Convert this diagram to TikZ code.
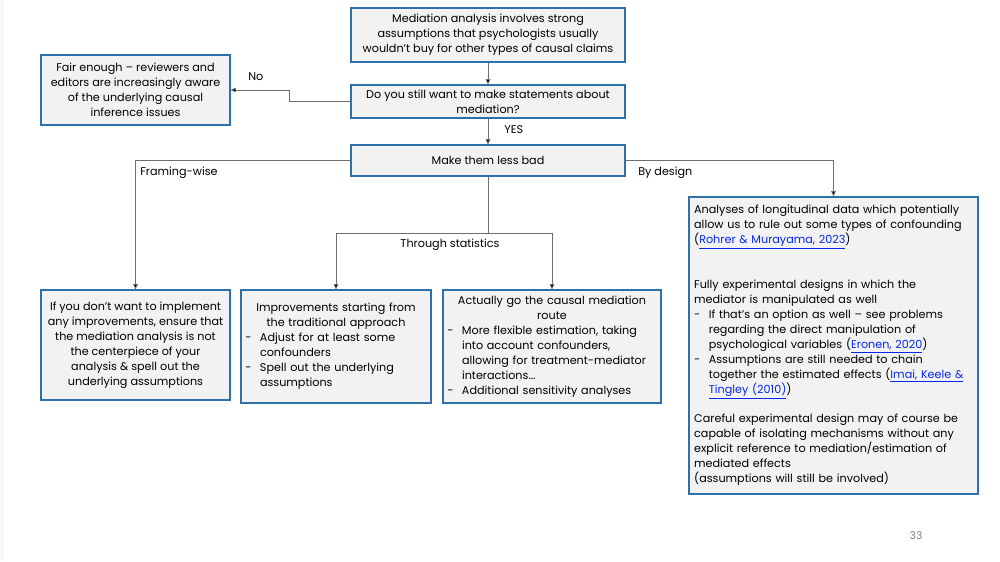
\documentclass[tikz,border=0pt]{standalone}
\usepackage{fontspec}
\setmainfont{Poppins}
\usetikzlibrary{arrows.meta}
\definecolor{boxblue}{RGB}{46,112,170}
\definecolor{boxfill}{RGB}{242,242,242}
\definecolor{linegray}{RGB}{110,110,110}
\definecolor{linkblue}{RGB}{5,40,230}
\newcommand{\lnk}[1]{\textcolor{linkblue}{\underline{#1}}}
\newcommand{\bul}{\makebox[11pt][l]{-}}
\newcommand{\ind}{\hspace*{11pt}}
\tikzset{
  fbox/.style={draw=boxblue, line width=0.9pt, fill=boxfill, inner sep=0pt, align=center,
    text=black, font=\fontsize{8.4}{11.2}\selectfont},
  conn/.style={draw=linegray, line width=0.6pt},
  arr/.style={conn, -{Triangle[length=4pt,width=3.5pt,fill=black]}},
  lbl/.style={font=\fontsize{8.4}{11.2}\selectfont, inner sep=0pt, text=black},
}
\begin{document}
\begin{tikzpicture}[x=0.75pt,y=-0.75pt]
\useasboundingbox (0,0) rectangle (1000,561);
\fill[gray!6] (0,0) rectangle (4,561);

\node[fbox, minimum width=205.5pt, minimum height=40.5pt] (top) at (488,35)
  {Mediation analysis involves strong\\assumptions that psychologists usually\\wouldn't buy for other types of causal claims};
\node[fbox, minimum width=205.5pt, minimum height=24.75pt] (q) at (488,101.5)
  {Do you still want to make statements about\\mediation?};
\node[fbox, minimum width=141.75pt, minimum height=52.5pt] (fair) at (135.5,90)
  {Fair enough -- reviewers and\\editors are increasingly aware\\of the underlying causal\\inference issues};
\node[fbox, minimum width=205.5pt, minimum height=23.25pt] (make) at (488,160.5)
  {Make them less bad};

\node[fbox, minimum width=141.75pt, minimum height=82.5pt] (fw) at (135.5,345)
  {If you don't want to implement\\any improvements, ensure that\\the mediation analysis is not\\the centerpiece of your\\analysis \& spell out the\\underlying assumptions};
\node[fbox, minimum width=142.5pt, minimum height=84.75pt, align=left, text width=136pt] (st1) at (336,346.5)
  {\makebox[\linewidth]{Improvements starting from}\\
   \makebox[\linewidth]{the traditional approach}\\
   \bul Adjust for at least some\\
   \ind confounders\\
   \bul Spell out the underlying\\
   \ind assumptions};
\node[fbox, minimum width=163.5pt, minimum height=84.75pt, align=left, text width=157pt] (st2) at (552,346.5)
  {\makebox[\linewidth]{Actually go the causal mediation}\\
   \makebox[\linewidth]{route}\\
   \bul More flexible estimation, taking\\
   \ind into account confounders,\\
   \ind allowing for treatment-mediator\\
   \ind interactions...\\
   \bul Additional sensitivity analyses};
\node[fbox, minimum width=216.75pt, minimum height=222.75pt, align=left, text width=209pt] (des) at (833.5,345.5)
  {Analyses of longitudinal data which potentially\\
   allow us to rule out some types of confounding\\
   (\lnk{Rohrer \& Murayama, 2023})\\
   \mbox{}\\
   \mbox{}\\
   Fully experimental designs in which the\\
   mediator is manipulated as well\\
   \bul If that's an option as well -- see problems\\
   \ind regarding the direct manipulation of\\
   \ind psychological variables (\lnk{Eronen, 2020})\\
   \bul Assumptions are still needed to chain\\
   \ind together the estimated effects (\lnk{Imai, Keele \&}\\
   \ind \lnk{Tingley (2010)})\\
   \mbox{}\\
   Careful experimental design may of course be\\
   capable of isolating mechanisms without any\\
   explicit reference to mediation/estimation of\\
   mediated effects\\
   (assumptions will still be involved)};

\draw[arr] (top) -- (q);
\draw[arr] (q.west) -- ++(-61,0) |- (fair.east);
\draw[arr] (q) -- (make);
\draw[arr] (make.west) -| (fw.north);
\draw[arr] (make.east) -| (des.north);
\coordinate (split) at (488,233);
\draw[conn] (make.south) -- (split);
\draw[arr] (split) -| (st1.north);
\draw[arr] (split) -| (st2.north);

\node[lbl, anchor=west] (no) at (248,77) {No};
\node[lbl, anchor=west] (yes) at (504,130) {YES};
\node[lbl, anchor=west] (fwl) at (140,173) {Framing-wise};
\node[lbl, anchor=west] (bdl) at (638,173) {By design};
\node[lbl] (tsl) at (450,245) {Through statistics};
\node[font=\fontsize{8}{10}\selectfont, text=gray, inner sep=0pt] (pg) at (916,536) {33};
\end{tikzpicture}
\end{document}
